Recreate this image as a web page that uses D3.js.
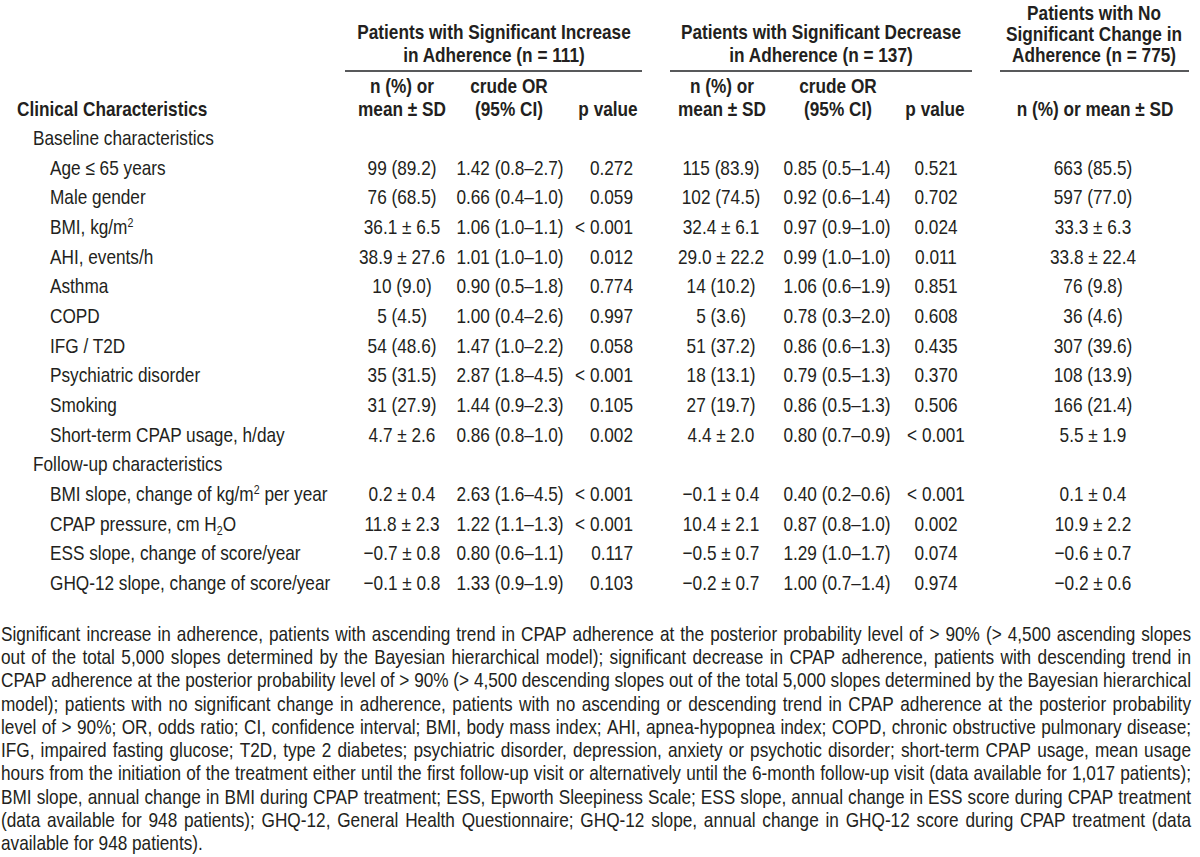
<!DOCTYPE html>
<html><head><meta charset="utf-8">
<script src="https://cdn.jsdelivr.net/npm/d3@7"></script>
<style>html,body{margin:0;padding:0;background:#fff;}svg{display:block;}</style>
</head><body>
<script>
// ---------------- DATA ----------------
const groupHeaders = [
  ["Patients with Significant Increase", "in Adherence (n = 111)"],
  ["Patients with Significant Decrease", "in Adherence (n = 137)"],
  ["Patients with No", "Significant Change in", "Adherence (n = 775)"]
];
const stubHeader = "Clinical Characteristics";
const subHeaders = [
  ["n (%) or", "mean ± SD"], ["crude OR", "(95% CI)"], ["p value"],
  ["n (%) or", "mean ± SD"], ["crude OR", "(95% CI)"], ["p value"],
  ["n (%) or mean ± SD"]
];
const sectionLabels = ["Baseline characteristics", "Follow-up characteristics"];
const sectionSizes = [10, 4];
const rowLabels = [
  "Age ≤ 65 years", "Male gender", "BMI, kg/m^2", "AHI, events/h", "Asthma", "COPD",
  "IFG / T2D", "Psychiatric disorder", "Smoking", "Short-term CPAP usage, h/day",
  "BMI slope, change of kg/m^2 per year", "CPAP pressure, cm H_2O",
  "ESS slope, change of score/year", "GHQ-12 slope, change of score/year"
];
const incNPct = ["99 (89.2)", "76 (68.5)", "36.1 ± 6.5", "38.9 ± 27.6", "10 (9.0)", "5 (4.5)",
  "54 (48.6)", "35 (31.5)", "31 (27.9)", "4.7 ± 2.6", "0.2 ± 0.4", "11.8 ± 2.3", "−0.7 ± 0.8", "−0.1 ± 0.8"];
const incOR = ["1.42 (0.8–2.7)", "0.66 (0.4–1.0)", "1.06 (1.0–1.1)", "1.01 (1.0–1.0)", "0.90 (0.5–1.8)",
  "1.00 (0.4–2.6)", "1.47 (1.0–2.2)", "2.87 (1.8–4.5)", "1.44 (0.9–2.3)", "0.86 (0.8–1.0)",
  "2.63 (1.6–4.5)", "1.22 (1.1–1.3)", "0.80 (0.6–1.1)", "1.33 (0.9–1.9)"];
const incP = ["0.272", "0.059", "< 0.001", "0.012", "0.774", "0.997", "0.058", "< 0.001", "0.105",
  "0.002", "< 0.001", "< 0.001", "0.117", "0.103"];
const decNPct = ["115 (83.9)", "102 (74.5)", "32.4 ± 6.1", "29.0 ± 22.2", "14 (10.2)", "5 (3.6)",
  "51 (37.2)", "18 (13.1)", "27 (19.7)", "4.4 ± 2.0", "−0.1 ± 0.4", "10.4 ± 2.1", "−0.5 ± 0.7", "−0.2 ± 0.7"];
const decOR = ["0.85 (0.5–1.4)", "0.92 (0.6–1.4)", "0.97 (0.9–1.0)", "0.99 (1.0–1.0)", "1.06 (0.6–1.9)",
  "0.78 (0.3–2.0)", "0.86 (0.6–1.3)", "0.79 (0.5–1.3)", "0.86 (0.5–1.3)", "0.80 (0.7–0.9)",
  "0.40 (0.2–0.6)", "0.87 (0.8–1.0)", "1.29 (1.0–1.7)", "1.00 (0.7–1.4)"];
const decP = ["0.521", "0.702", "0.024", "0.011", "0.851", "0.608", "0.435", "0.370", "0.506",
  "< 0.001", "< 0.001", "0.002", "0.074", "0.974"];
const noNPct = ["663 (85.5)", "597 (77.0)", "33.3 ± 6.3", "33.8 ± 22.4", "76 (9.8)", "36 (4.6)",
  "307 (39.6)", "108 (13.9)", "166 (21.4)", "5.5 ± 1.9", "0.1 ± 0.4", "10.9 ± 2.2", "−0.6 ± 0.7", "−0.2 ± 0.6"];
const footnoteLines = [
  "Significant increase in adherence, patients with ascending trend in CPAP adherence at the posterior probability level of > 90% (> 4,500 ascending slopes",
  "out of the total 5,000 slopes determined by the Bayesian hierarchical model); significant decrease in CPAP adherence, patients with descending trend in",
  "CPAP adherence at the posterior probability level of > 90% (> 4,500 descending slopes out of the total 5,000 slopes determined by the Bayesian hierarchical",
  "model); patients with no significant change in adherence, patients with no ascending or descending trend in CPAP adherence at the posterior probability",
  "level of > 90%; OR, odds ratio; CI, confidence interval; BMI, body mass index; AHI, apnea-hypopnea index; COPD, chronic obstructive pulmonary disease;",
  "IFG, impaired fasting glucose; T2D, type 2 diabetes; psychiatric disorder, depression, anxiety or psychotic disorder; short-term CPAP usage, mean usage",
  "hours from the initiation of the treatment either until the first follow-up visit or alternatively until the 6-month follow-up visit (data available for 1,017 patients);",
  "BMI slope, annual change in BMI during CPAP treatment; ESS, Epworth Sleepiness Scale; ESS slope, annual change in ESS score during CPAP treatment",
  "(data available for 948 patients); GHQ-12, General Health Questionnaire; GHQ-12 slope, annual change in GHQ-12 score during CPAP treatment (data",
  "available for 948 patients)."
];

// ---------------- LAYOUT ----------------
const W = 1200, H = 857;
const INK = "#231f20", RULE = "#58595b";
const FS = 21;

function hasFont(name) {
  const c = document.createElement("canvas").getContext("2d");
  const s = "abcdefghijklmnop ABCDEFG 0123456789";
  c.font = "40px monospace"; const a = c.measureText(s).width;
  c.font = `40px "${name}", monospace`; const b = c.measureText(s).width;
  return Math.abs(a - b) > 0.5;
}
let FF = "'Liberation Sans', Arial, sans-serif", SX = 0.82;
for (const f of ["Liberation Sans Narrow", "Arial Narrow"]) {
  if (hasFont(f)) { FF = `'${f}', sans-serif`; SX = 1; break; }
}

const svg = d3.select("body").append("svg").attr("width", W).attr("height", H)
  .attr("font-family", FF).attr("fill", INK);

function parseRich(s) {
  const out = []; const re = /([\^_])(\d)/g; let last = 0, m;
  while ((m = re.exec(s))) {
    if (m.index > last) out.push({ t: s.slice(last, m.index) });
    out.push({ t: m[2], mode: m[1] === "^" ? "sup" : "sub" });
    last = re.lastIndex;
  }
  if (last < s.length) out.push({ t: s.slice(last) });
  return out;
}

function addText(parent, x, y, str, anchor = "start", bold = false, size = FS) {
  const t = parent.append("text")
    .attr("transform", `translate(${x},${y}) scale(${SX},1)`)
    .attr("text-anchor", anchor).attr("font-size", size)
    .attr("font-weight", bold ? "bold" : "normal");
  let shift = 0;
  parseRich(str).forEach(p => {
    const ts = t.append("tspan").text(p.t);
    let target = 0;
    if (p.mode === "sup") { target = -7; ts.attr("font-size", size * 0.62); }
    if (p.mode === "sub") { target = 4; ts.attr("font-size", size * 0.62); }
    if (target !== shift) { ts.attr("dy", target - shift); shift = target; }
  });
  return t;
}

// ---------------- HEADER ----------------
const head = svg.append("g");
const groupCenters = [494, 821, 1094];
const groupRules = [[345, 642], [670, 972], [1000, 1189]];
groupHeaders.forEach((lines, g) => {
  const lastBase = 62, lh = lines.length > 2 ? 21 : 23;
  lines.forEach((ln, i) => {
    addText(head, groupCenters[g], lastBase - (lines.length - 1 - i) * lh, ln, "middle", true);
  });
});
head.selectAll("line.rule").data(groupRules).join("line").attr("class", "rule")
  .attr("x1", d => d[0]).attr("x2", d => d[1]).attr("y1", 71).attr("y2", 71)
  .attr("stroke", RULE).attr("stroke-width", 2);

const subCenters = [402, 509, 608, 722, 838, 935, 1095];
subHeaders.forEach((lines, c) => {
  lines.forEach((ln, i) => {
    addText(head, subCenters[c], 116 - (lines.length - 1 - i) * 23, ln, "middle", true);
  });
});
addText(head, 17, 116, stubHeader, "start", true);

// ---------------- BODY ----------------
const slots = [];
let di = 0;
sectionLabels.forEach((s, k) => {
  slots.push({ type: "section", label: s });
  for (let j = 0; j < sectionSizes[k]; j++) slots.push({ type: "row", i: di++ });
});
const y = d3.scaleLinear().domain([0, slots.length - 1]).range([145, 590]);

const columns = [
  { vals: incNPct, x: 402, anchor: "middle" },
  { vals: incOR, x: 510, anchor: "middle" },
  { vals: incP, x: 633, anchor: "end" },
  { vals: decNPct, x: 721, anchor: "middle" },
  { vals: decOR, x: 837, anchor: "middle" },
  { vals: decP, x: 936, anchor: "middle" },
  { vals: noNPct, x: 1093, anchor: "middle" }
];

const body = svg.append("g");
slots.forEach((s, k) => {
  const yy = y(k);
  if (s.type === "section") {
    addText(body, 33, yy, s.label);
  } else {
    addText(body, 50, yy, rowLabels[s.i]);
    columns.forEach(c => addText(body, c.x, yy, c.vals[s.i], c.anchor));
  }
});

// ---------------- FOOTNOTE ----------------
const foot = svg.append("g");
const fy = d3.scaleLinear().domain([0, footnoteLines.length - 1]).range([641, 850]);
const FX0 = 1, FX1 = 1191;
footnoteLines.forEach((line, i) => {
  const yy = fy(i);
  if (i === footnoteLines.length - 1) { addText(foot, FX0, yy, line); return; }
  const words = line.split(" ");
  const nodes = words.map(w => addText(foot, 0, yy, w));
  const widths = nodes.map(n => n.node().getComputedTextLength() * SX);
  const total = d3.sum(widths);
  const gap = (FX1 - FX0 - total) / (words.length - 1);
  let x = FX0;
  nodes.forEach((n, j) => {
    n.attr("transform", `translate(${x},${yy}) scale(${SX},1)`);
    x += widths[j] + gap;
  });
});
</script>
</body></html>
